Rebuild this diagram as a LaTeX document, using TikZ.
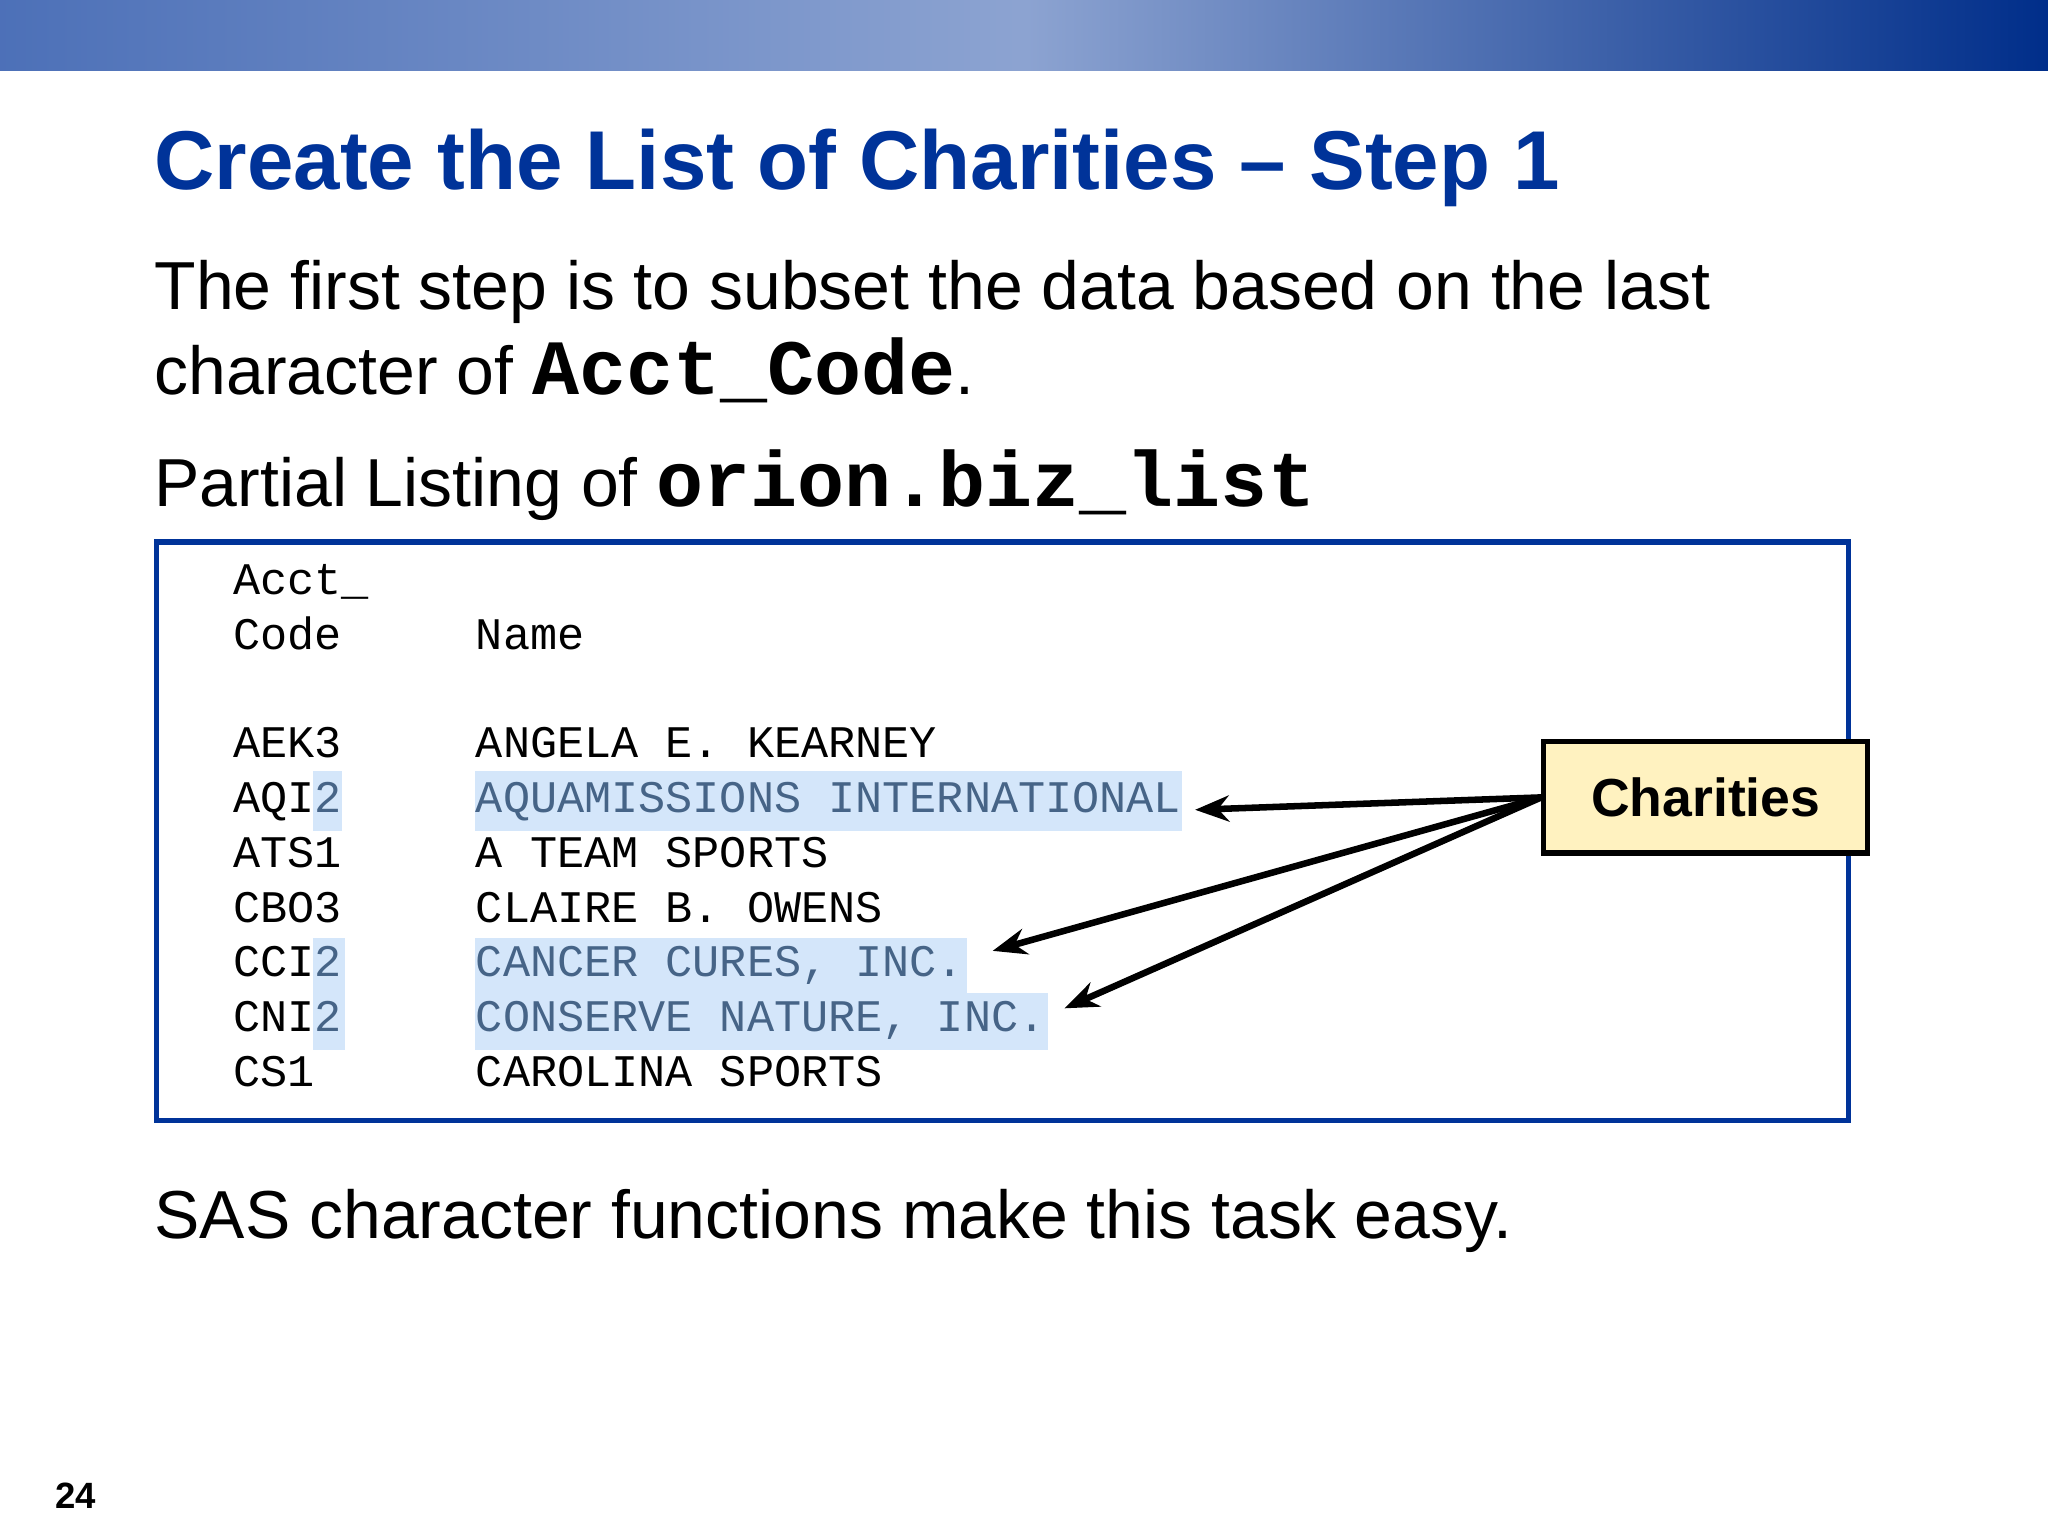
\documentclass[tikz,border=0pt]{standalone}
\usepackage{fontspec}
\setmainfont{Liberation Sans}
\setmonofont{Liberation Mono}
\usetikzlibrary{arrows.meta}
\definecolor{titleblue}{RGB}{0,51,153}
\definecolor{hl}{RGB}{212,230,250}
\definecolor{hltext}{RGB}{70,100,135}
\definecolor{cyel}{RGB}{255,242,192}
\newcommand{\codeword}[1]{{\ttfamily\bfseries\fontsize{30}{30}\selectfont #1}}
\tikzset{
  body/.style={anchor=base west,inner sep=0,font=\fontsize{26}{30}\selectfont},
  tab/.style={anchor=base west,inner sep=0,font=\ttfamily\fontsize{17.3}{20}\selectfont},
  hltab/.style={tab,text=hltext},
  hlbox/.style={fill=hl,draw=none},
  arr/.style={line width=2.5pt,-{Stealth[length=13pt,width=10pt]}}
}
\begin{document}
\begin{tikzpicture}[x=0.5pt,y=-0.5pt]
\useasboundingbox (0,0) rectangle (1568,1176);
\fill[white] (0,0) rectangle (1568,1176);
\shade[left color=titleblue!70!white, right color=titleblue!90!black, middle color=titleblue!45!white] (0,0) rectangle (1568,54);
\node[anchor=base west,inner sep=0,text=titleblue,font=\bfseries] (title) at (118,145)
  {\resizebox{538pt}{!}{\fontsize{36}{40}\selectfont Create the List of Charities -- Step 1}};
\node[body] (l1) at (118,237) {The first step is to subset the data based on the last};
\node[body] (l2) at (118,302) {character of \codeword{Acct\_Code}.};
\node[body] (l3) at (118,388) {Partial Listing of \codeword{orion.biz\_list}};
% highlights
\fill[hlbox] (240,590) rectangle (262,636);
\fill[hlbox] (364,590) rectangle (905,636);
\fill[hlbox] (240,718) rectangle (264,804);
\fill[hlbox] (364,718) rectangle (740,760);
\fill[hlbox] (364,760) rectangle (802,804);
\draw[titleblue,line width=2pt] (120,415) rectangle (1415,858);
\node[tab] (h1) at (178,455) {Acct\_};
\node[tab] (h2) at (178,497) {Code};
\node[tab] (h3) at (364,497) {Name};
\node[tab] (c1) at (178,580) {AEK3};
\node[tab] (n1) at (364,580) {ANGELA E. KEARNEY};
\node[tab] (c2) at (178,622) {AQI\textcolor{hltext}{2}};
\node[hltab] (n2) at (364,622) {AQUAMISSIONS INTERNATIONAL};
\node[tab] (c3) at (178,664) {ATS1};
\node[tab] (n3) at (364,664) {A TEAM SPORTS};
\node[tab] (c4) at (178,706) {CBO3};
\node[tab] (n4) at (364,706) {CLAIRE B. OWENS};
\node[tab] (c5) at (178,748) {CCI\textcolor{hltext}{2}};
\node[hltab] (n5) at (364,748) {CANCER CURES, INC.};
\node[tab] (c6) at (178,790) {CNI\textcolor{hltext}{2}};
\node[hltab] (n6) at (364,790) {CONSERVE NATURE, INC.};
\node[tab] (c7) at (178,832) {CS1};
\node[tab] (n7) at (364,832) {CAROLINA SPORTS};
\node[draw=black,line width=2pt,fill=cyel,minimum width=124pt,minimum height=42.5pt,inner sep=0,
  font=\bfseries\fontsize{20.5}{24}\selectfont] (ch) at (1306,610.5) {Charities};
\coordinate (a1) at (915,620);
\coordinate (a2) at (760,728);
\coordinate (a3) at (815,772);
\draw[arr] (ch.west) -- (a1);
\draw[arr] (ch.west) -- (a2);
\draw[arr] (ch.west) -- (a3);
\node[body] (foot) at (118,948) {SAS character functions make this task easy.};
\node[anchor=base west,inner sep=0,font=\bfseries\fontsize{14}{16}\selectfont] (pg) at (42,1155) {24};
\end{tikzpicture}
\end{document}
